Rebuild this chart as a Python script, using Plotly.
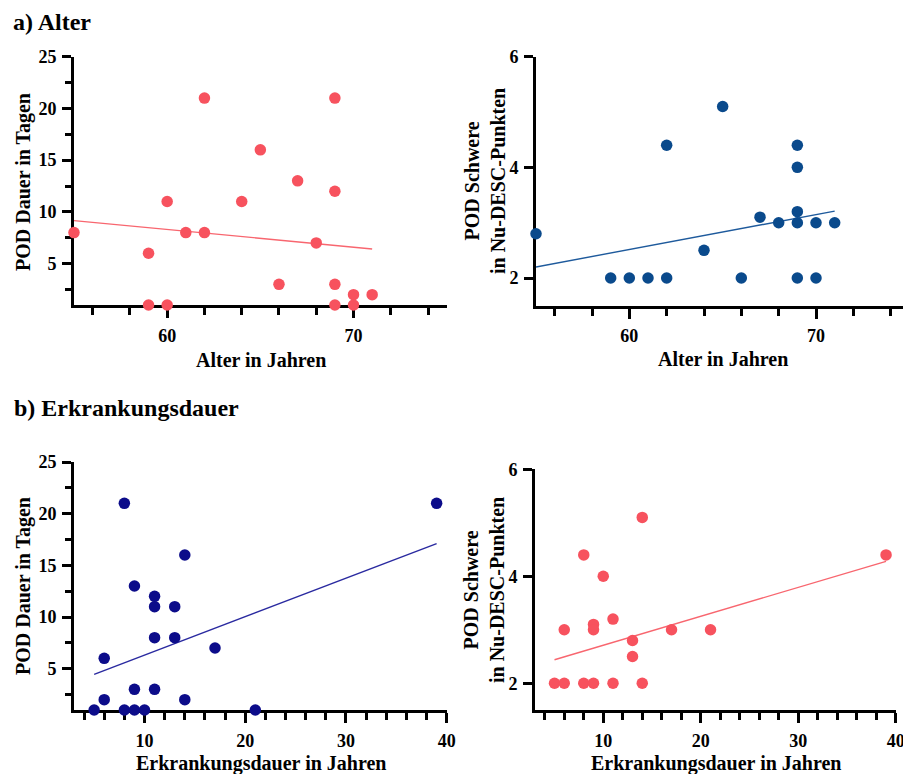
import plotly.graph_objects as go

# ---------------- data ----------------
# a) Alter vs POD Dauer
age_a = [55, 59, 59, 60, 60, 61, 62, 62, 64, 65, 66, 67, 68, 69, 69, 69, 69, 70, 70, 71]
dur_a = [8, 6, 1, 11, 1, 8, 21, 8, 11, 16, 3, 13, 7, 21, 12, 3, 1, 2, 1, 2]
fit_a_x = [55, 71]
fit_a_y = [9.16, 6.42]

# a) Alter vs POD Schwere (Nu-DESC)
age_b = [55, 59, 60, 61, 62, 62, 64, 65, 66, 67, 68, 69, 69, 69, 69, 69, 70, 70, 71]
sev_b = [2.8, 2, 2, 2, 2, 4.4, 2.5, 5.1, 2, 3.1, 3, 4.4, 4, 3.2, 3, 2, 3, 2, 3]
fit_b_x = [55, 71]
fit_b_y = [2.2, 3.21]

# b) Erkrankungsdauer vs POD Dauer
ill_c = [5, 6, 6, 8, 8, 9, 9, 9, 10, 11, 11, 11, 11, 13, 13, 14, 14, 17, 21, 39]
dur_c = [1, 6, 2, 21, 1, 13, 3, 1, 1, 12, 11, 8, 3, 11, 8, 16, 2, 7, 1, 21]
fit_c_x = [5, 39]
fit_c_y = [4.45, 17.1]

# b) Erkrankungsdauer vs POD Schwere
ill_d = [5, 6, 6, 8, 8, 9, 9, 9, 10, 11, 11, 13, 13, 14, 14, 17, 21, 39]
sev_d = [2, 3, 2, 4.4, 2, 3.1, 3, 2, 4, 3.2, 2, 2.8, 2.5, 5.1, 2, 3, 3, 4.4]
fit_d_x = [5, 39]
fit_d_y = [2.44, 4.28]

# tick values
age_major = [60, 70]
age_minor = [56, 58, 62, 64, 66, 68, 72, 74]
ill_major = [10, 20, 30, 40]
ill_minor = [4, 6, 8, 12, 14, 16, 18, 22, 24, 26, 28, 32, 34, 36, 38]
dur_major = [5, 10, 15, 20, 25]
dur_minor = [2.5, 7.5, 12.5, 17.5, 22.5]
sev_major = [2, 4, 6]

RED = "#F7525E"
RED_LINE = "#F8666F"
BLUE = "#0A4A8C"
BLUE_LINE = "#1E5A9C"
NAVY = "#0C0C8A"
NAVY_LINE = "#2A2AA0"

FONT = "Liberation Serif"
W, H = 903, 774

fig = go.Figure()


def add_panel(ix, xs, ys, fx, fy, col, lcol):
    xa = "x" if ix == 1 else f"x{ix}"
    ya = "y" if ix == 1 else f"y{ix}"
    fig.add_trace(go.Scatter(x=fx, y=fy, mode="lines", xaxis=xa, yaxis=ya,
                             line=dict(color=lcol, width=1.4), showlegend=False,
                             hoverinfo="skip", cliponaxis=False))
    fig.add_trace(go.Scatter(x=xs, y=ys, mode="markers", xaxis=xa, yaxis=ya,
                             marker=dict(color=col, size=11.5, line=dict(width=0)),
                             showlegend=False, cliponaxis=False))


add_panel(1, age_a, dur_a, fit_a_x, fit_a_y, RED, RED_LINE)
add_panel(2, age_b, sev_b, fit_b_x, fit_b_y, BLUE, BLUE_LINE)
add_panel(3, ill_c, dur_c, fit_c_x, fit_c_y, NAVY, NAVY_LINE)
add_panel(4, ill_d, sev_d, fit_d_x, fit_d_y, RED, RED_LINE)


def px_x(p):
    return p / W


def px_y(p):
    return 1 - p / H


tickfont = dict(family=FONT, size=18, color="black", weight="bold")


def xaxis(domain, rng, major, minor, anchor):
    return dict(domain=domain, range=rng, anchor=anchor, showgrid=False, zeroline=False,
                automargin=False, ticklabeloverflow="allow",
                showline=True, linecolor="black", linewidth=3, layer="below traces",
                tickmode="array", tickvals=major, ticktext=[str(v) for v in major],
                ticks="outside", ticklen=10, tickwidth=2.6, tickcolor="black",
                tickfont=tickfont, ticklabelstandoff=2,
                minor=dict(tickmode="array", tickvals=minor, ticks="outside", ticklen=7,
                           tickwidth=2.6, tickcolor="black"))


def yaxis(domain, rng, major, minor, anchor):
    d = dict(domain=domain, range=rng, anchor=anchor, showgrid=False, zeroline=False,
             automargin=False, ticklabeloverflow="allow",
             showline=True, linecolor="black", linewidth=3, layer="below traces",
             tickmode="array", tickvals=major, ticktext=[str(v) for v in major],
             ticks="outside", ticklen=9, tickwidth=2.6, tickcolor="black",
             tickfont=tickfont, ticklabelstandoff=2)
    if minor:
        d["minor"] = dict(tickmode="array", tickvals=minor, ticks="outside", ticklen=6,
                          tickwidth=2.6, tickcolor="black")
    return d


fig.update_layout(
    width=W, height=H, margin=dict(l=0, r=0, t=0, b=0, pad=0, autoexpand=False),
    paper_bgcolor="white", plot_bgcolor="white",
    xaxis=xaxis([px_x(74), px_x(446.7)], [55, 75], age_major, age_minor, "y"),
    yaxis=yaxis([px_y(305), px_y(56.7)], [1, 25], dur_major, dur_minor, "x"),
    xaxis2=xaxis([px_x(536), 1.0], [55, 74.66], age_major, age_minor, "y2"),
    yaxis2=yaxis([px_y(305.7), px_y(56.7)], [1.5, 6], sev_major, None, "x2"),
    xaxis3=xaxis([px_x(74), px_x(446.7)], [3, 40], ill_major, ill_minor, "y3"),
    yaxis3=yaxis([px_y(710), px_y(462)], [1, 25], dur_major, dur_minor, "x3"),
    xaxis4=xaxis([px_x(535), px_x(895.8)], [3, 40], ill_major, ill_minor, "y4"),
    yaxis4=yaxis([px_y(710), px_y(469.3)], [1.5, 6], sev_major, None, "x4"),
)

title_font = dict(family=FONT, size=20, color="black", weight="bold")
head_font = dict(family=FONT, size=24, color="black", weight="bold")


def ann(text, x, y, font, angle=0, xanchor="center"):
    fig.add_annotation(text=text, x=px_x(x), y=px_y(y), xref="paper", yref="paper",
                       showarrow=False, font=font, textangle=angle,
                       xanchor=xanchor, yanchor="middle", align="center")


ann("a) Alter", 11, 22, head_font, xanchor="left")
ann("b) Erkrankungsdauer", 12, 408, head_font, xanchor="left")

ann("Alter in Jahren", 261, 360, title_font)
ann("Alter in Jahren", 723, 359, title_font)
ann("Erkrankungsdauer in Jahren", 261, 763, title_font)
ann("Erkrankungsdauer in Jahren", 716, 763, title_font)

ann("POD Dauer in Tagen", 23, 182, title_font, angle=-90)
ann("POD Dauer in Tagen", 23, 586, title_font, angle=-90)
ann("POD Schwere<br>in Nu-DESC-Punkten", 485, 181, title_font, angle=-90)
ann("POD Schwere<br>in Nu-DESC-Punkten", 484, 590, title_font, angle=-90)

fig.write_html("out.html")
